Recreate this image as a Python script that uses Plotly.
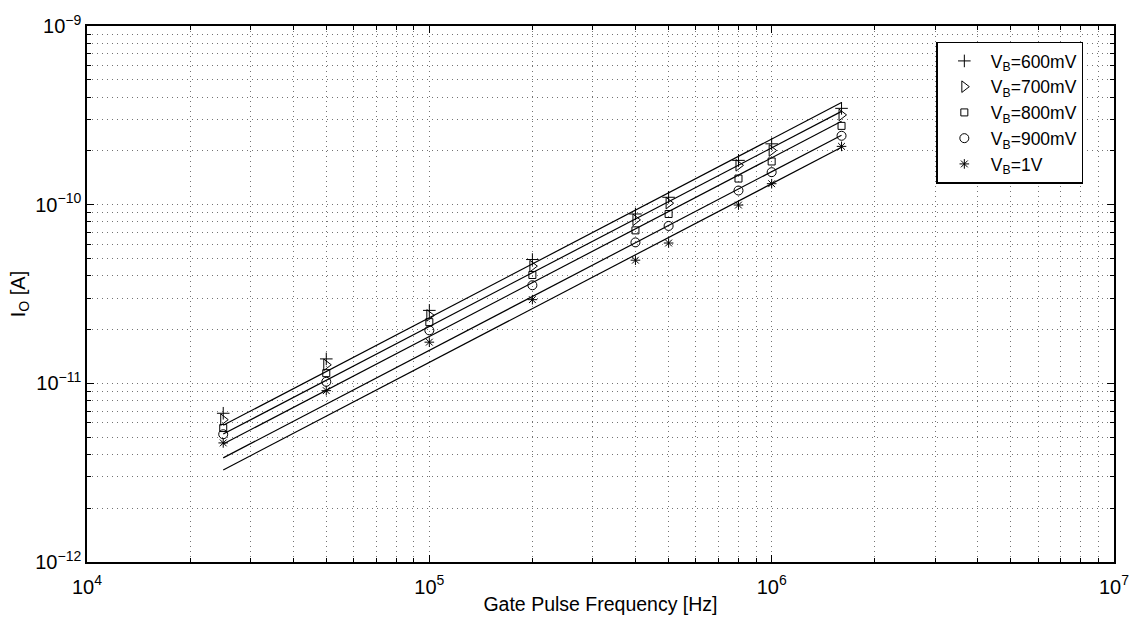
import numpy as np
import plotly.graph_objects as go

# ---- data ----
freq_hz = [25e3, 50e3, 100e3, 200e3, 400e3, 500e3, 800e3, 1e6, 1.6e6]
series_names = ["V<sub>B</sub>=600mV", "V<sub>B</sub>=700mV", "V<sub>B</sub>=800mV",
                "V<sub>B</sub>=900mV", "V<sub>B</sub>=1V"]
i_600mv = [6.8e-12, 1.37e-11, 2.56e-11, 4.93e-11, 8.87e-11, 1.10e-10, 1.77e-10, 2.19e-10, 3.46e-10]
i_700mv = [6.26e-12, 1.27e-11, 2.40e-11, 4.53e-11, 8.22e-11, 1.02e-10, 1.66e-10, 2.01e-10, 3.18e-10]
i_800mv = [5.62e-12, 1.14e-11, 2.20e-11, 4.04e-11, 7.18e-11, 8.87e-11, 1.40e-10, 1.745e-10, 2.76e-10]
i_900mv = [5.19e-12, 1.02e-11, 1.98e-11, 3.54e-11, 6.15e-11, 7.60e-11, 1.20e-10, 1.52e-10, 2.43e-10]
i_1v = [4.64e-12, 9.1e-12, 1.70e-11, 2.94e-11, 4.89e-11, 6.10e-11, 9.95e-11, 1.31e-10, 2.12e-10]
# fitted charge per pulse (I = Q * f) for each series
fit_charge = [2.33e-16, 2.08e-16, 1.83e-16, 1.53e-16, 1.31e-16]

x_tick_vals = [1e4, 1e5, 1e6, 1e7]
x_tick_text = ["10<sup>4</sup>", "10<sup>5</sup>", "10<sup>6</sup>", "10<sup>7</sup>"]
y_tick_vals = [1e-12, 1e-11, 1e-10, 1e-9]
y_tick_text = ["10<sup>−12</sup>", "10<sup>−11</sup>", "10<sup>−10</sup>", "10<sup>−9</sup>"]

series_values = [i_600mv, i_700mv, i_800mv, i_900mv, i_1v]
symbols = ["cross-thin-open", "triangle-right-open", "square-open", "circle-open", "asterisk-open"]
sizes = [9, 10, 7, 9, 8]

fig = go.Figure()
f_arr = np.array(freq_hz)
for q in fit_charge:
    fig.add_trace(go.Scatter(x=freq_hz, y=list(q * f_arr), mode="lines",
                             line=dict(color="black", width=1.2), showlegend=False,
                             hoverinfo="skip"))
for name, vals, sym, sz in zip(series_names, series_values, symbols, sizes):
    fig.add_trace(go.Scatter(x=freq_hz, y=vals, mode="markers", name=name,
                             marker=dict(symbol=sym, size=sz, color="black",
                                         line=dict(color="black", width=1))))

def minor_vals(lo, hi):
    out = []
    for e in range(lo, hi):
        for k in range(2, 10):
            out.append(k * 10.0 ** e)
    return out

grid_col = "rgba(0,0,0,0.55)"
grid_dash = "1px,4px"
axis_common = dict(
    type="log", showline=True, linecolor="black", linewidth=1.5, mirror="allticks",
    ticks="inside", ticklen=7, tickcolor="black", tickwidth=1,
    showgrid=True, gridcolor=grid_col, griddash=grid_dash, gridwidth=1,
    zeroline=False,
    tickfont=dict(family="Liberation Sans, Arial", size=20, color="black"),
)

fig.update_layout(
    width=1141, height=626,
    margin=dict(l=87, r=25, t=21, b=64),
    paper_bgcolor="white", plot_bgcolor="white",
    font=dict(family="Liberation Sans, Arial", color="black"),
    xaxis=dict(axis_common, range=[4, 7], tickvals=x_tick_vals, ticktext=x_tick_text,
               ticklabelstandoff=6,
               title=dict(text="Gate Pulse Frequency [Hz]", font=dict(size=19.5), standoff=1),
               minor=dict(tickvals=minor_vals(4, 7), ticks="inside", ticklen=4,
                          tickcolor="black", showgrid=True, gridcolor=grid_col,
                          griddash=grid_dash, gridwidth=1)),
    yaxis=dict(axis_common, range=[-12, -9], tickvals=y_tick_vals, ticktext=y_tick_text,
               title=dict(text="I<sub>O</sub> [A]", font=dict(size=20), standoff=4),
               minor=dict(tickvals=minor_vals(-12, -9), ticks="inside", ticklen=4,
                          tickcolor="black", showgrid=True, gridcolor=grid_col,
                          griddash=grid_dash, gridwidth=1)),
    legend=dict(x=0.827, y=0.971, xanchor="left", yanchor="top",
                bgcolor="white", bordercolor="black", borderwidth=1.5,
                font=dict(family="Liberation Sans, Arial", size=17.5, color="black"),
                tracegroupgap=0, itemwidth=43),
)

fig.write_html("out.html")
